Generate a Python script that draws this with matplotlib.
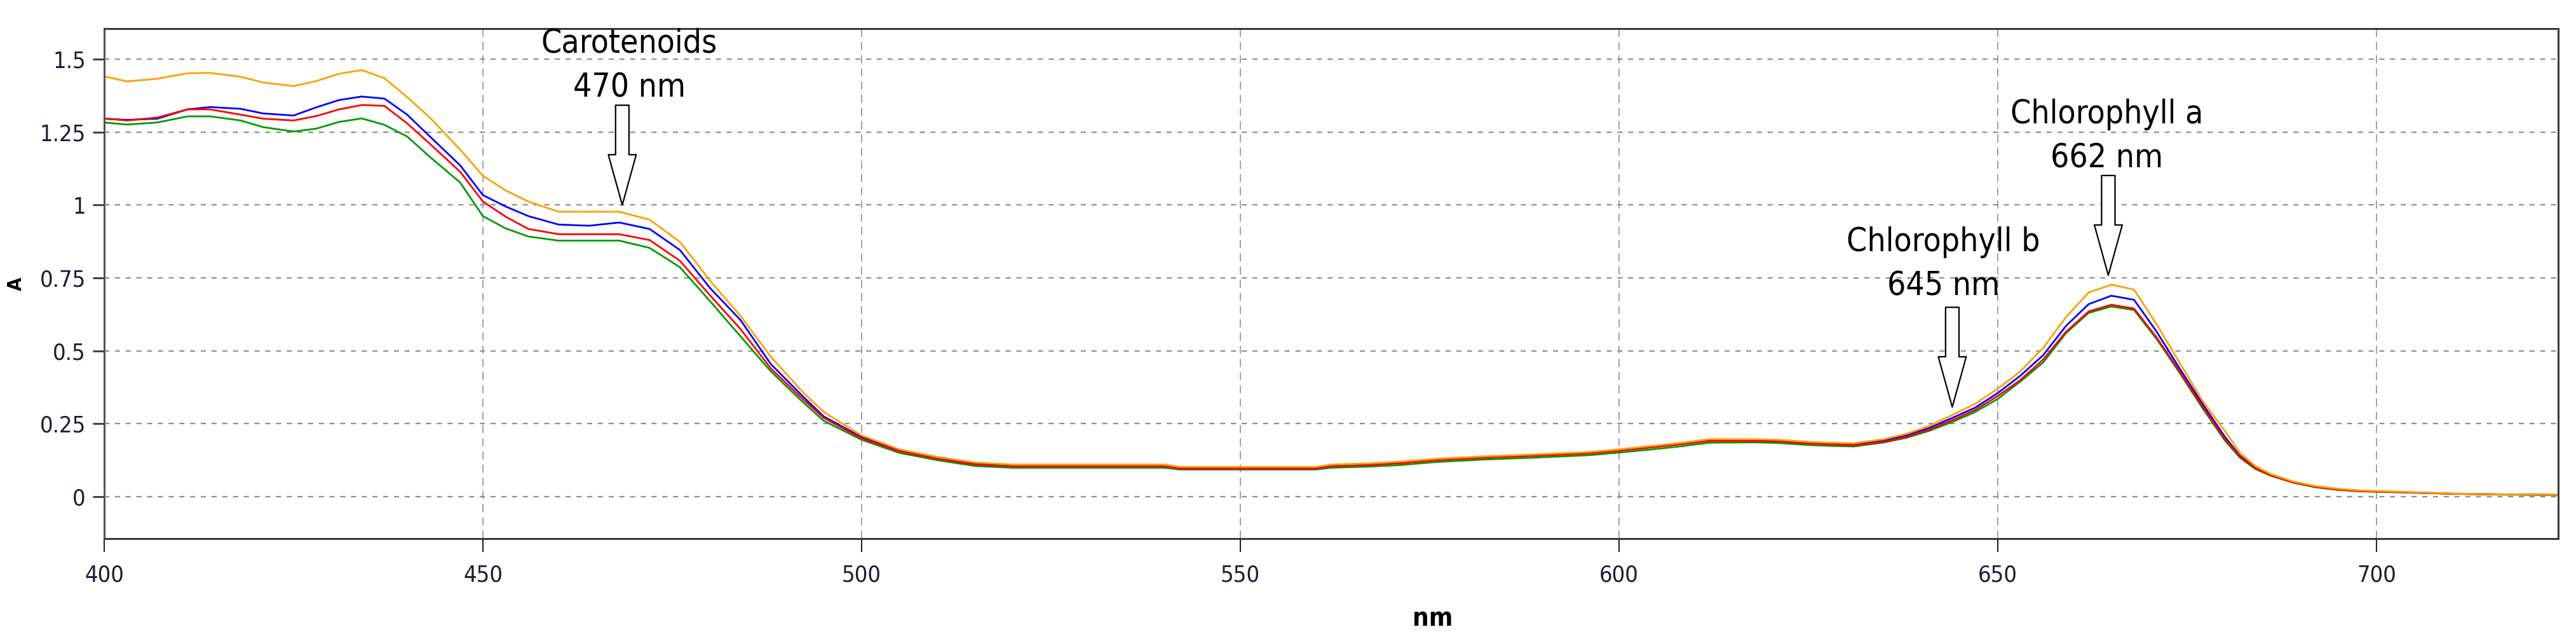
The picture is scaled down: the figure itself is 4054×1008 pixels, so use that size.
import matplotlib
matplotlib.use("Agg")
import matplotlib.pyplot as plt
from matplotlib import font_manager

# Absorbance spectra of four pigment extracts (A vs wavelength in nm)
wavelength = [400, 403, 407, 411, 414, 418, 421, 425, 428, 431, 434, 437, 440, 443, 447,
              450, 453, 456, 460, 464, 468, 472, 476, 480, 484, 488, 492, 495, 500, 505,
              510, 515, 520, 540, 542, 560, 562, 567, 571, 576, 582, 589, 596, 600, 604,
              608, 612, 618, 621, 625, 628, 631, 635, 638, 641, 644, 647, 650, 653, 656,
              659, 662, 665, 668, 671, 674, 677, 680, 682, 684, 686, 689, 692, 695, 698,
              704, 710, 716, 724]

abs_orange = [1.441, 1.424, 1.433, 1.452, 1.453, 1.440, 1.420, 1.408, 1.425, 1.450, 1.463, 1.435, 1.370, 1.300, 1.190,
              1.100, 1.050, 1.012, 0.977, 0.977, 0.977, 0.950, 0.874, 0.740, 0.620, 0.480, 0.365, 0.290, 0.210, 0.162,
              0.136, 0.117, 0.110, 0.110, 0.102, 0.102, 0.110, 0.114, 0.120, 0.130, 0.138, 0.145, 0.153, 0.162, 0.173,
              0.184, 0.197, 0.197, 0.195, 0.188, 0.185, 0.183, 0.197, 0.216, 0.243, 0.280, 0.318, 0.370, 0.430, 0.510,
              0.615, 0.700, 0.727, 0.710, 0.590, 0.460, 0.330, 0.225, 0.150, 0.105, 0.078, 0.052, 0.036, 0.027, 0.021,
              0.016, 0.011, 0.008, 0.006]

abs_blue = [1.296, 1.292, 1.296, 1.328, 1.336, 1.330, 1.314, 1.307, 1.335, 1.360, 1.372, 1.365, 1.310, 1.235, 1.136,
            1.034, 0.995, 0.962, 0.933, 0.929, 0.940, 0.918, 0.846, 0.715, 0.606, 0.455, 0.350, 0.275, 0.204, 0.157,
            0.131, 0.112, 0.105, 0.105, 0.097, 0.097, 0.105, 0.109, 0.115, 0.126, 0.134, 0.141, 0.149, 0.158, 0.169,
            0.180, 0.193, 0.193, 0.191, 0.184, 0.181, 0.178, 0.192, 0.210, 0.236, 0.270, 0.305, 0.355, 0.415, 0.485,
            0.585, 0.660, 0.689, 0.675, 0.565, 0.440, 0.320, 0.205, 0.140, 0.100, 0.075, 0.050, 0.034, 0.025, 0.020,
            0.015, 0.010, 0.008, 0.006]

abs_red = [1.297, 1.290, 1.300, 1.328, 1.328, 1.310, 1.296, 1.290, 1.305, 1.328, 1.343, 1.340, 1.280, 1.210, 1.114,
           1.012, 0.960, 0.918, 0.900, 0.900, 0.900, 0.880, 0.809, 0.690, 0.575, 0.440, 0.340, 0.270, 0.200, 0.155,
           0.130, 0.110, 0.104, 0.104, 0.096, 0.096, 0.104, 0.108, 0.114, 0.125, 0.133, 0.140, 0.148, 0.157, 0.168,
           0.179, 0.191, 0.191, 0.189, 0.182, 0.179, 0.176, 0.188, 0.205, 0.230, 0.262, 0.297, 0.345, 0.400, 0.470,
           0.565, 0.635, 0.658, 0.645, 0.545, 0.430, 0.310, 0.198, 0.137, 0.098, 0.074, 0.049, 0.033, 0.024, 0.019,
           0.015, 0.010, 0.008, 0.006]

abs_green = [1.283, 1.276, 1.283, 1.304, 1.304, 1.290, 1.267, 1.252, 1.262, 1.285, 1.297, 1.275, 1.235, 1.165, 1.077,
             0.962, 0.920, 0.892, 0.878, 0.878, 0.878, 0.853, 0.787, 0.670, 0.550, 0.430, 0.330, 0.260, 0.195, 0.150,
             0.125, 0.105, 0.099, 0.099, 0.093, 0.093, 0.099, 0.103, 0.108, 0.119, 0.127, 0.134, 0.142, 0.151, 0.161,
             0.172, 0.185, 0.186, 0.184, 0.177, 0.174, 0.172, 0.186, 0.202, 0.226, 0.256, 0.290, 0.335, 0.395, 0.460,
             0.560, 0.630, 0.652, 0.640, 0.540, 0.425, 0.305, 0.192, 0.133, 0.095, 0.072, 0.048, 0.032, 0.023, 0.018,
             0.014, 0.010, 0.007, 0.005]

# drawing order: last one ends up on top
series = [(abs_blue, "#0000ff"), (abs_green, "#009a00"), (abs_red, "#ff0000"), (abs_orange, "#ffa000")]

x_ticks = [400, 450, 500, 550, 600, 650, 700]
y_ticks = [0, 0.25, 0.5, 0.75, 1, 1.25, 1.5]
y_tick_labels = ["0", "0.25", "0.5", "0.75", "1", "1.25", "1.5"]

# pigment peak annotations
peak_names = ["Carotenoids", "Chlorophyll b", "Chlorophyll a"]
peak_nm = [470, 645, 662]
arrow_tip_x = [468.4, 644.0, 664.6]
arrow_tip_y = [1.0, 0.307, 0.759]
label_x = [469.3, 642.8, 664.4]
label_y = [1.477, 0.797, 1.235]


def pick_font(bold=False):
    # the original uses a narrow face; take a condensed one if the system has it
    def weight_of(f):
        w = f.weight
        if isinstance(w, str):
            w = font_manager.weight_dict.get(w, 400)
        return w

    prefer = ["Liberation Sans Narrow", "DejaVu Sans", "Noto Sans", "Roboto", "Open Sans"]
    found = []
    for f in font_manager.fontManager.ttflist:
        narrow = (f.stretch in ("condensed", "semi-condensed", "extra-condensed")
                  or "Narrow" in f.name or "Condensed" in f.name)
        if not narrow or f.style != "normal":
            continue
        if (weight_of(f) >= 600) != bold:
            continue
        rank = prefer.index(f.name) if f.name in prefer else len(prefer)
        found.append((rank, f.fname))
    if found:
        found.sort()
        return font_manager.FontProperties(fname=found[0][1])
    return font_manager.FontProperties(family="Roboto", weight="bold" if bold else "normal")


font_reg = pick_font()
font_bold = pick_font(bold=True)
TICK_COLOR = "#1c1c34"

fig = plt.figure(figsize=(40.54, 10.08), dpi=100)
ax = fig.add_axes([0.04045, 0.15972, 0.95264, 0.79564])

for values, color in series:
    ax.plot(wavelength, values, color=color, lw=2.0, solid_joinstyle="miter")

ax.set_xlim(400, 724)
ax.set_ylim(-0.144, 1.605)

ax.set_xticks(x_ticks)
ax.set_xticklabels([str(t) for t in x_ticks], fontproperties=font_reg, fontsize=26, color=TICK_COLOR)
ax.set_yticks(y_ticks)
ax.set_yticklabels(y_tick_labels, fontproperties=font_reg, fontsize=26, color=TICK_COLOR)
ax.tick_params(axis="y", direction="out", length=13, width=2.2, color="#444444", pad=8)
ax.tick_params(axis="x", direction="out", length=15, width=1.5, color="#222222", pad=14)

# grid: short dashes for A levels, long dashes for wavelengths
ax.yaxis.grid(True, color="#8f8f8f", lw=1.6, dashes=(3.6, 4.0))
ax.xaxis.grid(True, color="#999999", lw=1.3, dashes=(7.0, 4.5))
ax.set_axisbelow(True)

for side in ["left", "right", "top", "bottom"]:
    ax.spines[side].set_linewidth(2.2)
    ax.spines[side].set_color("#3a3a3a")
ax.spines["left"].set_color("#555555")

ax.set_xlabel("nm", fontproperties=font_bold, fontsize=29)
ax.xaxis.set_label_coords(0.5414, -0.132)
ax.set_ylabel("A", fontproperties=font_bold, fontsize=22)
ax.yaxis.set_label_coords(-0.0321, 0.5)

for name, nm, tx, ty, lx, ly in zip(peak_names, peak_nm, arrow_tip_x, arrow_tip_y, label_x, label_y):
    ax.annotate("", xy=(tx, ty), xytext=(0, 113), textcoords="offset points",
                xycoords="data",
                arrowprops=dict(arrowstyle="simple,head_length=2.85,head_width=1.58,tail_width=0.76",
                                mutation_scale=20, fc="white", ec="black", lw=1.6,
                                shrinkA=0, shrinkB=0))
    ax.text(lx, ly, f"{name}\n{nm} nm", ha="center", va="center", fontproperties=font_reg,
            fontsize=37, linespacing=1.5, color="black")

fig.savefig("out.png", dpi=100, facecolor="white")
